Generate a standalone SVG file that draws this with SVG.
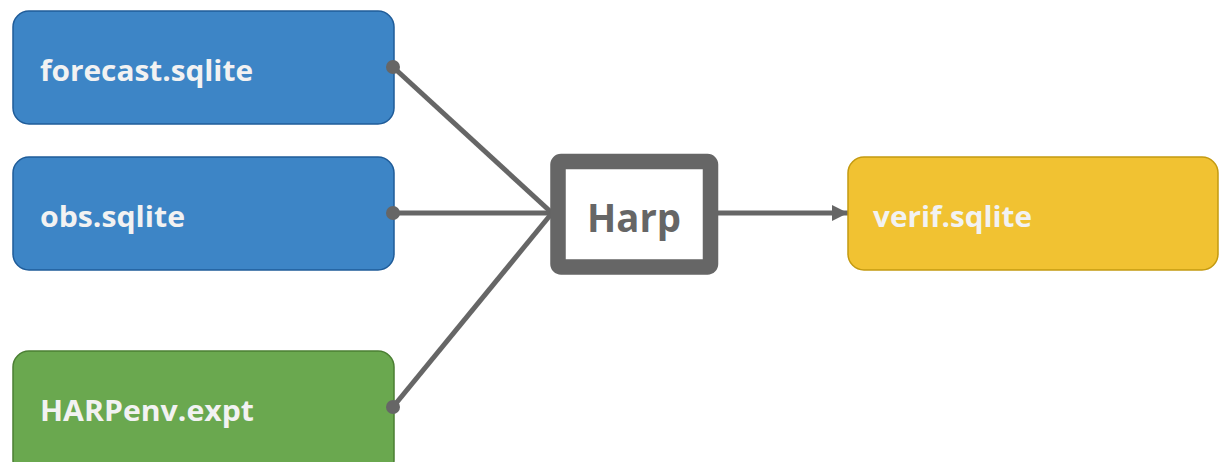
<svg xmlns="http://www.w3.org/2000/svg" width="1220" height="462" viewBox="0 0 1220 462">
<style>
.lbl{font-family:"Open Sans","Noto Sans",sans-serif;font-weight:bold;font-size:29px;fill:#f2f2f2}
.blue{fill:#3d85c6;stroke:#1f5c99;stroke-width:1.5}
.green{fill:#6aa84f;stroke:#4b7f33;stroke-width:1.5}
.yellow{fill:#f1c232;stroke:#c49a10;stroke-width:1.5}
.conn{stroke:#666666;stroke-width:5;fill:none}
</style>
<defs>
<marker id="arr" viewBox="0 0 10 10" refX="10" refY="5" markerWidth="3.4" markerHeight="3.2" orient="auto" markerUnits="strokeWidth">
<path d="M0,0 L10,5 L0,10 z" fill="#666666"/>
</marker>
</defs>
<g id="forecast">
<rect class="blue" x="13" y="11" width="381" height="113" rx="16"/>
<text class="lbl" x="40" y="81" textLength="213" lengthAdjust="spacingAndGlyphs">forecast.sqlite</text>
</g>
<g id="obs">
<rect class="blue" x="13" y="157" width="381" height="113" rx="16"/>
<text class="lbl" x="40" y="227" textLength="145" lengthAdjust="spacingAndGlyphs">obs.sqlite</text>
</g>
<g id="harpenv">
<rect class="green" x="13" y="351" width="381" height="125" rx="16"/>
<text class="lbl" x="40" y="421" textLength="214" lengthAdjust="spacingAndGlyphs">HARPenv.expt</text>
</g>
<g id="connectors">
<line class="conn" x1="393" y1="67" x2="552" y2="213"/>
<line class="conn" x1="393" y1="213" x2="552" y2="213"/>
<line class="conn" x1="393" y1="407" x2="552" y2="213"/>
<line class="conn" x1="718" y1="213" x2="848" y2="213" marker-end="url(#arr)"/>
<circle cx="393" cy="67" r="7" fill="#666666"/>
<circle cx="393" cy="213" r="7" fill="#666666"/>
<circle cx="393" cy="407" r="7" fill="#666666"/>
</g>
<g id="harp">
<rect x="558" y="161.5" width="152.5" height="105.5" rx="3" fill="#ffffff" stroke="#666666" stroke-width="15.5"/>
<text x="634" y="232" text-anchor="middle" font-family="Open Sans, Noto Sans, sans-serif" font-weight="bold" font-size="40" fill="#666666" textLength="94" lengthAdjust="spacingAndGlyphs">Harp</text>
</g>
<g id="verif">
<rect class="yellow" x="848" y="157" width="370" height="113" rx="16"/>
<text class="lbl" x="873" y="227" textLength="159" lengthAdjust="spacingAndGlyphs">verif.sqlite</text>
</g>
</svg>
